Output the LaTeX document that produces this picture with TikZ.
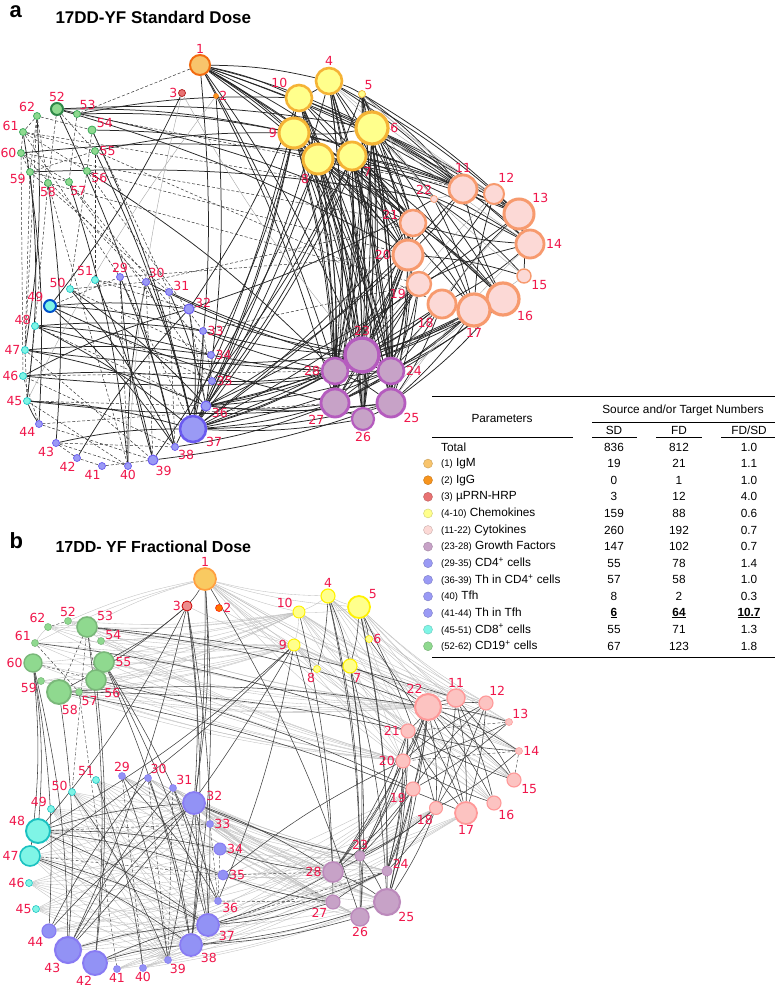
\documentclass[tikz,border=0pt]{standalone}
\usepackage{fontspec}
\setmainfont{Liberation Sans}
\newfontfamily\numfont{DejaVu Sans}
\usetikzlibrary{positioning}
\pgfdeclarelayer{edges}
\pgfsetlayers{edges,main}

\definecolor{numred}{HTML}{F0174B}
\definecolor{igmF}{HTML}{F8C46C}\definecolor{igmD}{HTML}{F26B10}
\definecolor{iggF}{HTML}{F7941D}
\definecolor{prnF}{HTML}{E87272}\definecolor{prnD}{HTML}{B01818}
\definecolor{chmF}{HTML}{FFFF8C}\definecolor{chmD}{HTML}{F5B335}
\definecolor{cytF}{HTML}{FCD9D6}\definecolor{cytD}{HTML}{F79A6E}
\definecolor{gfF}{HTML}{C7A2C7}\definecolor{gfD}{HTML}{B55BBE}
\definecolor{cdfF}{HTML}{9A9AF5}\definecolor{cdfD}{HTML}{6A5AF0}
\definecolor{cdeF}{HTML}{7FF5E6}\definecolor{cdeD}{HTML}{1EC8C8}
\definecolor{cdnF}{HTML}{8FD98F}\definecolor{cdnD}{HTML}{3AAA5A}

\begin{document}
\begin{tikzpicture}[x=1pt, y=-1pt,
  vtx/.style={circle, draw, inner sep=0pt},
  lbl/.style={text=numred, font=\numfont\fontsize{12.5}{13}\selectfont, inner sep=0.5pt},
  tbl/.style={font=\fontsize{11.8}{13}\selectfont, inner sep=1pt},
  orgA/.style={fill=igmF, draw=igmD},
  ig2A/.style={fill=iggF, draw=iggF!80!red},
  prnA/.style={fill=prnF, draw=prnD},
  ylwA/.style={fill=chmF, draw=chmD},
  cytA/.style={fill=cytF, draw=cytD},
  gfA/.style={fill=gfF, draw=gfD},
  cd4A/.style={fill=cdfF, draw=cdfD},
  cd8A/.style={fill=cdeF, draw=cdeD},
  cd8K/.style={fill=cdeF, draw=blue!60!cyan!80!black, line width=2pt},
  cd19A/.style={fill=cdnF, draw=cdnD},
  cd19K/.style={fill=cdnF, draw=cdnD!80!black, line width=2pt},
  orgB/.style={fill=igmF!90!yellow, draw=orange!75},
  ig2B/.style={fill=orange!90!red, draw=red!80!orange},
  prnB/.style={fill=prnF!80!white, draw=red!80!black},
  ylwB/.style={fill=chmF, draw=yellow},
  cytB/.style={fill=cytF!90!red, draw=red!40},
  gfB/.style={fill=gfF, draw=gfF!85!violet},
  cd4B/.style={fill=cdfF!95!blue, draw=cdfD!80},
  cd8B/.style={fill=cdeF, draw=cdeD!90!teal},
  cd19B/.style={fill=cdnF, draw=cdnF!85!black},
  link/.style={draw=black!85, line width=0.75pt, bend left=6},
  dlink/.style={draw=black!80, densely dashed, line width=0.5pt},
  glink/.style={draw=black!35, line width=0.4pt, bend right=5},
  blink/.style={draw=black!75, line width=0.55pt, bend left=6},
  flink/.style={draw=black!25, line width=0.35pt, bend right=6}]
  \useasboundingbox (0,0) rectangle (775,990);

  % titles
  \node[font=\bfseries\fontsize{22}{22}\selectfont, anchor=west] (tagA) at (6,12) {a};
  \node[font=\bfseries\fontsize{17}{17}\selectfont, anchor=west] (titA) at (52,17) {17DD-YF Standard Dose};
  \node[font=\bfseries\fontsize{22}{22}\selectfont, anchor=west] (tagB) at (6,541) {b};
  \node[font=\bfseries\fontsize{16}{16}\selectfont, anchor=west] (titB) at (52,547) {17DD- YF Fractional Dose};

  % network a
  \foreach \i/\x/\y/\rr/\st/\ang in {
    1/200/65/10/orgA/90, 2/216/96/2.5/ig2A/0, 3/182/93/3.5/prnA/180,
    4/329/81/13/ylwA/90, 5/362/94/3.5/ylwA/60, 6/372/128/16/ylwA/0, 7/352/156/14/ylwA/-45,
    8/318/159/15/ylwA/-120, 9/294/133/15/ylwA/180, 10/299/98/13/ylwA/140,
    11/463/189/14/cytA/90, 12/494/194/10/cytA/70, 13/519/214/15/cytA/40, 14/530/244/14/cytA/0,
    15/524/276/7/cytA/-30, 16/503/299/16/cytA/-40, 17/474/310/16/cytA/-90, 18/442/304/14/cytA/-120,
    19/419/284/12/cytA/-160, 20/408/255/15/cytA/180, 21/413/223/13/cytA/170, 22/434/199/3.5/cytA/110,
    23/362/355/17/gfA/90, 24/391/371/13/gfA/0, 25/391/403/14/gfA/-40, 26/363/419/11/gfA/-90,
    27/335/403/14/gfA/-130, 28/335/371/13/gfA/180,
    29/120/277/3.5/cd4A/90, 30/146/282/3.5/cd4A/60, 31/169/292/3.5/cd4A/10, 32/189/309/5/cd4A/10,
    33/203/331/3.5/cd4A/0, 34/211/355/3.5/cd4A/0, 35/212/381/3.5/cd4A/0, 36/206/406/5/cd4A/-20,
    37/193/429/13/cd4A/-30, 38/175/447/3.5/cd4A/-50, 39/153/460/5/cd4A/-70, 40/128/466/3.5/cd4A/-90,
    41/102/466/3.5/cd4A/-100, 42/77/458/3.5/cd4A/-100, 43/56/443/3.5/cd4A/-110, 44/39/424/3.5/cd4A/-140,
    45/27/401/3.5/cd8A/180, 46/23/376/3.5/cd8A/180, 47/25/350/3.5/cd8A/180, 48/35/326/3.5/cd8A/170,
    49/50/306/6/cd8K/150, 50/70/289/3.5/cd8A/170, 51/95/280/3.5/cd8A/110,
    52/57/109/6/cd19K/90, 53/77/114/3.5/cd19A/60, 54/92/130/4/cd19A/20, 55/95/151/3.5/cd19A/0,
    56/87/171/3.5/cd19A/-20, 57/69/182/3.5/cd19A/-80, 58/48/183/3.5/cd19A/-90, 59/30/172/3.5/cd19A/-160,
    60/21/153/3.5/cd19A/180, 61/23/132/3.5/cd19A/170, 62/37/116/3.5/cd19A/110}
    \node[vtx, minimum size=2*\rr pt, line width=0.2*\rr pt, \st, label={[lbl]\ang:\i}] (a\i) at (\x,\y) {};

  % network b
  \foreach \i/\x/\y/\rr/\st/\ang in {
    1/205/579/11/orgB/90, 2/219/608/3.5/ig2B/0, 3/187/606/5/prnB/180,
    4/328/596/7/ylwB/90, 5/359/607/11/ylwB/40, 6/369/639/3.5/ylwB/0, 7/350/666/7/ylwB/-70,
    8/317/669/3.5/ylwB/-110, 9/294/645/6/ylwB/180, 10/299/612/6/ylwB/150,
    11/456/698/9/cytB/90, 12/486/703/7/cytB/70, 13/509/722/3.5/cytB/45, 14/519/751/3.5/cytB/0,
    15/514/780/7/cytB/-30, 16/494/803/7/cytB/-60, 17/466/813/11/cytB/-90, 18/436/808/6.5/cytB/-110,
    19/413/789/7/cytB/-150, 20/403/761/7/cytB/180, 21/408/731/7/cytB/180, 22/428/707/13/cytB/110,
    23/360/856/5/gfB/90, 24/387/871/5/gfB/20, 25/387/902/13/gfB/-40, 26/360/917/9/gfB/-90,
    27/333/902/7/gfB/-130, 28/333/872/10/gfB/180,
    29/122/776/3.5/cd4B/90, 30/148/778/3.5/cd4B/60, 31/173/788/3.5/cd4B/45, 32/194/803/11/cd4B/10,
    33/210/824/3.5/cd4B/0, 34/220/849/6/cd4B/0, 35/223/875/5/cd4B/0, 36/218/901/3.5/cd4B/-20,
    37/208/925/11/cd4B/-30, 38/191/945/11/cd4B/-40, 39/168/960/3.5/cd4B/-70, 40/143/968/3.5/cd4B/-90,
    41/117/969/3.5/cd4B/-90, 42/95/963/12/cd4B/-100, 43/68/950/13/cd4B/-120, 44/49/931/7/cd4B/-130,
    45/36/909/3.5/cd8B/180, 46/29/883/3.5/cd8B/180, 47/30/856/10/cd8B/180, 48/38/831/12/cd8B/160,
    49/51/809/3.5/cd8B/160, 50/72/792/3.5/cd8B/170, 51/96/780/3.5/cd8B/110,
    52/68/621/3.5/cd19B/90, 53/87/627/10/cd19B/30, 54/101/641/3.5/cd19B/10, 55/104/662/10/cd19B/0,
    56/96/680/10/cd19B/-45, 57/79/692/3.5/cd19B/-60, 58/59/692/12/cd19B/-80, 59/41/681/3.5/cd19B/-160,
    60/33/663/9/cd19B/180, 61/35/643/3.5/cd19B/160, 62/48/627/3.5/cd19B/120}
    \node[vtx, minimum size=2*\rr pt, line width=0.16*\rr pt, \st, label={[lbl]\ang:\i}] (b\i) at (\x,\y) {};

  \begin{pgfonlayer}{edges}
    \fill[white] (0,0) rectangle (775,990);
    % edges of a
    \foreach \s in {4,...,10} \foreach \t in {23,...,28} \draw[link] (a\s) to (a\t);
    \foreach \s in {16,...,21} \foreach \t in {23,24,25,27,28} \draw[link] (a\s) to (a\t);
    \foreach \s in {23,24,25,27,28} \foreach \t in {36,37} \draw[link] (a\s) to (a\t);
    \foreach \s in {6,7,8} \foreach \t in {11,13,14,16,17,20,21} \draw[link] (a\s) to (a\t);
    \foreach \s in {4,5,9,10} \foreach \t in {11,13,20,21} \draw[link] (a\s) to (a\t);
    \foreach \s/\t in {1/4,1/10,1/9,1/8,1/7,1/6,1/11,1/21,1/20,1/13,1/23,1/28,1/27,1/37,1/16,3/49,2/36,
      52/9,52/6,52/21,52/20,53/9,53/10,54/8,60/7,55/9,59/22,56/28,54/37,55/37,52/38,57/40,58/43,59/45,61/44,62/47,
      4/5,4/10,9/10,8/9,7/8,6/7,5/6,6/9,
      11/14,12/14,13/15,14/21,11/20,21/16,20/15,19/14,18/13,17/12,16/11,22/15,22/17,12/19,14/18,
      23/24,23/28,24/25,27/28,25/26,26/27,23/26,28/25,24/27,
      23/32,23/33,24/34,28/35,27/49,28/48,23/47,24/46,25/45,28/33,27/38,25/39,26/37,23/31,24/30,
      8/37,9/37,7/36,6/37,9/36,10/38,8/39,4/37,5/36,7/35,9/34,10/32,
      20/36,21/37,19/37,17/36,18/37,22/32,11/37,13/36,
      49/32,49/33,48/34,48/33,47/36,46/35,45/37,47/34,49/38,50/38,51/39,29/38,30/37,31/36,32/37,36/37,33/37,
      40/30,39/29,44/45,43/37,42/32,50/36,48/37,46/32}
      \draw[link] (a\s) to (a\t);
    \foreach \s/\t in {1/53,62/61,62/59,61/60,60/59,61/55,62/58,52/55,53/57,54/56,55/59,61/56,60/57,59/57,52/58,62/54,
      61/29,60/30,59/31,56/33,57/35,58/40,62/47,60/46,48/45,47/45,46/44,49/29,50/30,51/31,43/42,42/41,43/38,44/39,
      45/40,46/38,47/39,48/36,29/40,30/39,31/38,32/36,33/35,29/37,61/22,60/21,58/19,56/20,53/12,55/18,51/32,50/34,
      49/35,45/36,43/40,41/39,57/34,54/31,58/48,59/47,55/51,56/50,28/46,27/44,19/33,20/29,21/30}
      \draw[dlink] (a\s) -- (a\t);
    \foreach \s/\t in {3/23,5/12,6/12,4/14,22/11,5/22,6/15,13/24,12/23,14/25,15/26,2/45,3/40,5/13,4/12}
      \draw[glink] (a\s) to (a\t);

    % edges of b
    \foreach \s in {1,4,5,9,10} \foreach \t in {11,12,13,14,15,16,20,21} \draw[flink] (b\s) to (b\t);
    \foreach \s in {52,...,62} \foreach \t in {9,10,20,22} \draw[flink] (b\s) to (b\t);
    \foreach \s in {45,...,51} \foreach \t in {32,...,39} \draw[flink] (b\s) to (b\t);
    \foreach \s in {29,...,35} \foreach \t in {23,...,28} \draw[flink] (b\s) to (b\t);
    \foreach \s in {40,...,44} \foreach \t in {17,18,19,24,25} \draw[flink] (b\s) to (b\t);
    \foreach \s/\t in {1/52,1/53,1/61,1/10,1/9,1/4,10/4,4/5,9/10,9/8,10/5,53/62,62/61,1/5,3/9,2/7}
      \draw[flink] (b\s) to (b\t);
    \foreach \s in {18,...,22} \foreach \t in {23,24,25,28} \draw[blink] (b\s) to (b\t);
    \foreach \s/\t in {1/3,1/26,1/38,1/32,1/39,3/32,3/37,3/38,3/43,3/58,3/55,3/48,
      9/43,9/47,9/48,9/36,9/28,10/27,4/23,4/8,4/26,5/7,5/6,5/24,5/25,7/23,7/25,7/26,7/22,6/17,5/18,4/7,
      22/11,22/12,22/13,22/14,22/15,22/16,22/17,22/18,22/19,22/20,22/21,11/15,11/16,11/17,11/18,12/18,12/17,
      13/19,13/20,14/18,14/21,15/21,16/20,17/21,19/12,20/12,
      23/26,28/25,27/24,23/25,28/37,27/37,25/38,26/38,28/34,27/35,23/32,24/37,
      58/22,58/17,58/21,53/22,53/11,55/37,55/36,60/43,60/44,60/47,60/48,58/43,56/42,53/42,55/38,61/21,56/19,
      48/32,48/34,48/35,48/37,47/37,47/38,43/32,43/31,42/37,42/38,44/32,32/38,32/37,30/38,31/37,29/36,29/39,
      51/40,50/39,43/37,44/30,32/28,35/20}
      \draw[blink] (b\s) to (b\t);
    \foreach \s/\t in {62/52,60/56,58/53,53/56,57/41,53/50,61/57,29/40,30/39,14/15,14/20,13/21,37/24,36/27,35/28,
      48/33,47/35,31/39,33/36,34/36}
      \draw[dlink, line width=0.4pt] (b\s) -- (b\t);
  \end{pgfonlayer}

  % table
  \draw[line width=0.6pt] (432,396) -- (775,396);
  \draw[line width=0.6pt] (592,422) -- (775,422);
  \draw[line width=0.6pt] (432,437) -- (573,437) (592,437) -- (637,437) (656,437) -- (702,437) (721,437) -- (775,437);
  \draw[line width=0.6pt] (432,657) -- (775,657);
  \node[tbl] (hpar) at (502,418) {Parameters};
  \node[tbl] (hsrc) at (683,410) {Source and/or Target Numbers};
  \node[tbl] (hsd) at (614,430) {SD};
  \node[tbl] (hfd) at (679,430) {FD};
  \node[tbl] (hrat) at (749,430) {FD/SD};
  \node[tbl, anchor=west] (rTot) at (440,447) {Total};
  \node[tbl] (sTot) at (614,447) {836};
  \node[tbl] (fTot) at (679,447) {812};
  \node[tbl] (qTot) at (749,447) {1.0};
  \foreach \k/\nm/\sd/\fd/\rat/\fc in {
    1/{{\fontsize{9.5}{10}\selectfont(1)} IgM}/19/21/1.1/igmF,
    2/{{\fontsize{9.5}{10}\selectfont(2)} IgG}/0/1/1.0/iggF,
    3/{{\fontsize{9.5}{10}\selectfont(3)} µPRN-HRP}/3/12/4.0/prnF,
    4/{{\fontsize{9.5}{10}\selectfont(4-10)} Chemokines}/159/88/0.6/chmF,
    5/{{\fontsize{9.5}{10}\selectfont(11-22)} Cytokines}/260/192/0.7/cytF,
    6/{{\fontsize{9.5}{10}\selectfont(23-28)} Growth Factors}/147/102/0.7/gfF,
    7/{{\fontsize{9.5}{10}\selectfont(29-35)} CD4\textsuperscript{+} cells}/55/78/1.4/cdfF,
    8/{{\fontsize{9.5}{10}\selectfont(36-39)} Th in CD4\textsuperscript{+} cells}/57/58/1.0/cdfF,
    9/{{\fontsize{9.5}{10}\selectfont(40)} Tfh}/8/2/0.3/cdfF,
    10/{{\fontsize{9.5}{10}\selectfont(41-44)} Th in Tfh}/{\underline{\textbf{6}}}/{\underline{\textbf{64}}}/{\underline{\textbf{10.7}}}/cdfF,
    11/{{\fontsize{9.5}{10}\selectfont(45-51)} CD8\textsuperscript{+} cells}/55/71/1.3/cdeF,
    12/{{\fontsize{9.5}{10}\selectfont(52-62)} CD19\textsuperscript{+} cells}/67/123/1.8/cdnF}
  {
    \node[circle, fill=\fc, draw=\fc!80!black, line width=0.4pt, minimum size=9pt, inner sep=0pt] (dot\k) at (428,{447+16.6*\k}) {};
    \node[tbl, anchor=west] (row\k) at (440,{447+16.6*\k}) {\nm};
    \node[tbl] (sd\k) at (614,{447+16.6*\k}) {\sd};
    \node[tbl] (fd\k) at (679,{447+16.6*\k}) {\fd};
    \node[tbl] (rat\k) at (749,{447+16.6*\k}) {\rat};
  }
\end{tikzpicture}
\end{document}
